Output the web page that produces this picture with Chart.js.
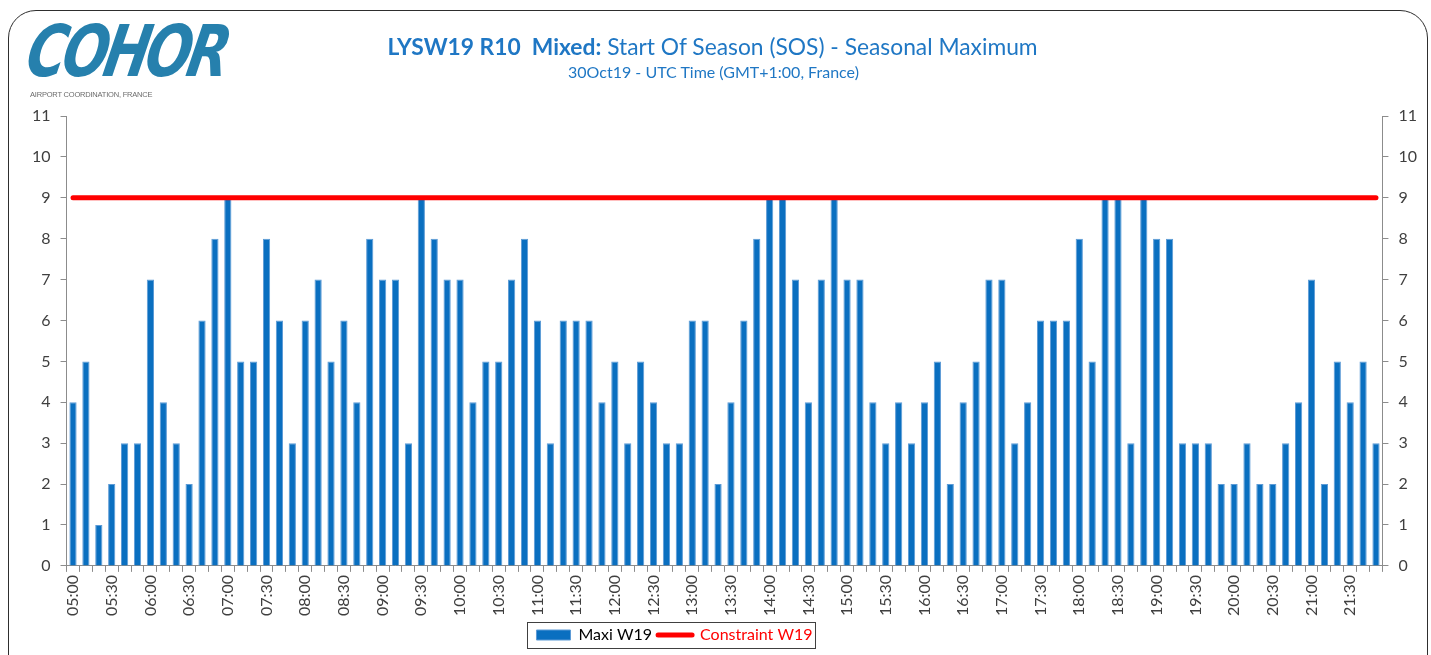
<!DOCTYPE html>
<html><head><meta charset="utf-8">
<script src="https://cdn.jsdelivr.net/npm/chart.js@4.4.0/dist/chart.umd.min.js"></script>
<style>
html,body{margin:0;padding:0;background:#fff;}
#wrap{position:relative;width:1431px;height:655px;overflow:hidden;background:#fff;}
#frame{position:absolute;left:8px;top:10px;width:1420px;height:700px;border:1.5px solid #2e2e2e;border-radius:28px;box-sizing:border-box;}
#c{position:absolute;left:0;top:0;}
#logo{position:absolute;left:36px;top:10px;font-family:'DejaVu Sans';font-weight:bold;font-style:italic;font-size:54px;color:#2680AD;letter-spacing:-4px;transform-origin:0 0;transform:scale(1.0,1.32) skewX(-14deg);}
#tag{position:absolute;left:30px;top:90px;font-family:'Liberation Sans';font-size:7.5px;color:#6b6b6b;letter-spacing:-0.2px;}
#title{position:absolute;left:-3px;width:1431px;top:32px;text-align:center;font-family:Lato;font-size:22.8px;color:#1f77c4;white-space:nowrap;}
#title b{font-weight:bold;}
#sub{position:absolute;left:-2px;width:1431px;top:62px;text-align:center;font-family:Lato;font-size:16px;color:#1f77c4;white-space:nowrap;}
</style></head>
<body>
<div id="wrap">
<div id="frame"></div>
<canvas id="c" width="1431" height="655"></canvas>
<div id="logo">COHOR</div>
<div id="tag">AIRPORT COORDINATION, FRANCE</div>
<div id="title"><b>LYSW19 R10&nbsp; Mixed:</b> Start Of Season (SOS) - Seasonal Maximum</div>
<div id="sub">30Oct19 - UTC Time (GMT+1:00, France)</div>
</div>
<script>
const categories = [
'05:00','05:10','05:20','05:30','05:40','05:50',
'06:00','06:10','06:20','06:30','06:40','06:50',
'07:00','07:10','07:20','07:30','07:40','07:50',
'08:00','08:10','08:20','08:30','08:40','08:50',
'09:00','09:10','09:20','09:30','09:40','09:50',
'10:00','10:10','10:20','10:30','10:40','10:50',
'11:00','11:10','11:20','11:30','11:40','11:50',
'12:00','12:10','12:20','12:30','12:40','12:50',
'13:00','13:10','13:20','13:30','13:40','13:50',
'14:00','14:10','14:20','14:30','14:40','14:50',
'15:00','15:10','15:20','15:30','15:40','15:50',
'16:00','16:10','16:20','16:30','16:40','16:50',
'17:00','17:10','17:20','17:30','17:40','17:50',
'18:00','18:10','18:20','18:30','18:40','18:50',
'19:00','19:10','19:20','19:30','19:40','19:50',
'20:00','20:10','20:20','20:30','20:40','20:50',
'21:00','21:10','21:20','21:30','21:40','21:50'];

const maxiW19 = [
4,5,1,2,3,3,
7,4,3,2,6,8,
9,5,5,8,6,3,
6,7,5,6,4,8,
7,7,3,9,8,7,
7,4,5,5,7,8,
6,3,6,6,6,4,
5,3,5,4,3,3,
6,6,2,4,6,8,
9,9,7,4,7,9,
7,7,4,3,4,3,
4,5,2,4,5,7,
7,3,4,6,6,6,
8,5,9,9,3,9,
8,8,3,3,3,2,
2,3,2,2,3,4,
7,2,5,4,5,3];

const constraintW19 = [
9,9,9,9,9,9, 9,9,9,9,9,9, 9,9,9,9,9,9, 9,9,9,9,9,9,
9,9,9,9,9,9, 9,9,9,9,9,9, 9,9,9,9,9,9, 9,9,9,9,9,9,
9,9,9,9,9,9, 9,9,9,9,9,9, 9,9,9,9,9,9, 9,9,9,9,9,9,
9,9,9,9,9,9, 9,9,9,9,9,9, 9,9,9,9,9,9, 9,9,9,9,9,9,
9,9,9,9,9,9];

const xTickLabels = ['05:00','05:30','06:00','06:30','07:00','07:30','08:00','08:30','09:00','09:30',
'10:00','10:30','11:00','11:30','12:00','12:30','13:00','13:30','14:00','14:30','15:00','15:30',
'16:00','16:30','17:00','17:30','18:00','18:30','19:00','19:30','20:00','20:30','21:00','21:30'];

const seriesNames = ['Maxi W19','Constraint W19'];

const AXIS = '#8c8c8c';
const TXT = '#3f3f3f';
const tickFont = {family:'Lato', size:16};

const legendShift = {
  id:'legendShift',
  afterLayout(chart){
    const lg = chart.legend;
    if(!lg) return;
    lg.left -= 50; lg.right -= 50;
    lg.top += 2; lg.bottom += 2;
  }
};

const legendBox = {
  id:'legendBox',
  afterDraw(chart){
    const lg = chart.legend;
    if(!lg || !lg.legendHitBoxes || !lg.legendHitBoxes.length) return;
    const hb = lg.legendHitBoxes;
    const x1 = Math.min(...hb.map(h=>h.left));
    const x2 = Math.max(...hb.map(h=>h.left+h.width));
    const y1 = Math.min(...hb.map(h=>h.top));
    const y2 = Math.max(...hb.map(h=>h.top+h.height));
    const ctx = chart.ctx;
    ctx.save();
    ctx.strokeStyle = '#404040';
    ctx.lineWidth = 1;
    ctx.strokeRect(Math.round(x1-9)+0.5, Math.round(y1-5)+0.5, Math.round(x2-x1+12), Math.round(y2-y1+10));
    ctx.restore();
  }
};

new Chart(document.getElementById('c'), {
  data: {
    labels: categories,
    datasets: [
      {type:'bar', label:seriesNames[0], data:maxiW19, backgroundColor:'#0a6fc0', borderColor:'#5d9bd6', borderWidth:1,
       barPercentage:0.56, categoryPercentage:1, order:2, yAxisID:'y'},
      {type:'line', label:seriesNames[1], data:constraintW19, borderColor:'#ff0000', borderWidth:5, pointRadius:0,
       borderCapStyle:'round', fill:false, order:1, yAxisID:'y'}
    ]
  },
  options: {
    responsive:false,
    animation:false,
    layout:{padding:{top:116, left:22, right:4, bottom:4}},
    plugins:{
      title:{display:false},
      tooltip:{enabled:false},
      legend:{
        display:true, position:'bottom',
        labels:{
          font:{family:'Lato', size:16}, color:'#000', usePointStyle:true, pointStyleWidth:34, boxHeight:10, padding:6,
          generateLabels(){
            return [
              {text:seriesNames[0], fillStyle:'#0a6fc0', strokeStyle:'#5d9bd6', lineWidth:1, pointStyle:'rect', fontColor:'#000', datasetIndex:0},
              {text:seriesNames[1], fillStyle:'#ff0000', strokeStyle:'#ff0000', lineWidth:5, lineCap:'round', pointStyle:'line', fontColor:'#ff0000', datasetIndex:1}
            ];
          }
        }
      }
    },
    scales:{
      x:{
        offset:true,
        grid:{display:true, drawOnChartArea:false, tickLength:6, color:AXIS, offset:true},
        border:{display:true, color:AXIS, width:1},
        ticks:{autoSkip:false, minRotation:90, maxRotation:90, font:tickFont, color:TXT, padding:3,
          callback(v, i){ const l = categories[i]; return xTickLabels.includes(l) ? l : ''; }}
      },
      y:{
        position:'left', min:0, max:11,
        grid:{display:true, drawOnChartArea:false, tickLength:6, color:AXIS},
        border:{display:true, color:AXIS, width:1},
        ticks:{stepSize:1, font:tickFont, color:TXT, padding:10}
      },
      y2:{
        position:'right', min:0, max:11,
        grid:{display:true, drawOnChartArea:false, tickLength:6, color:AXIS},
        border:{display:true, color:AXIS, width:1},
        ticks:{stepSize:1, font:tickFont, color:TXT, padding:10}
      }
    }
  },
  plugins:[legendShift, legendBox]
});
</script>
</body></html>
